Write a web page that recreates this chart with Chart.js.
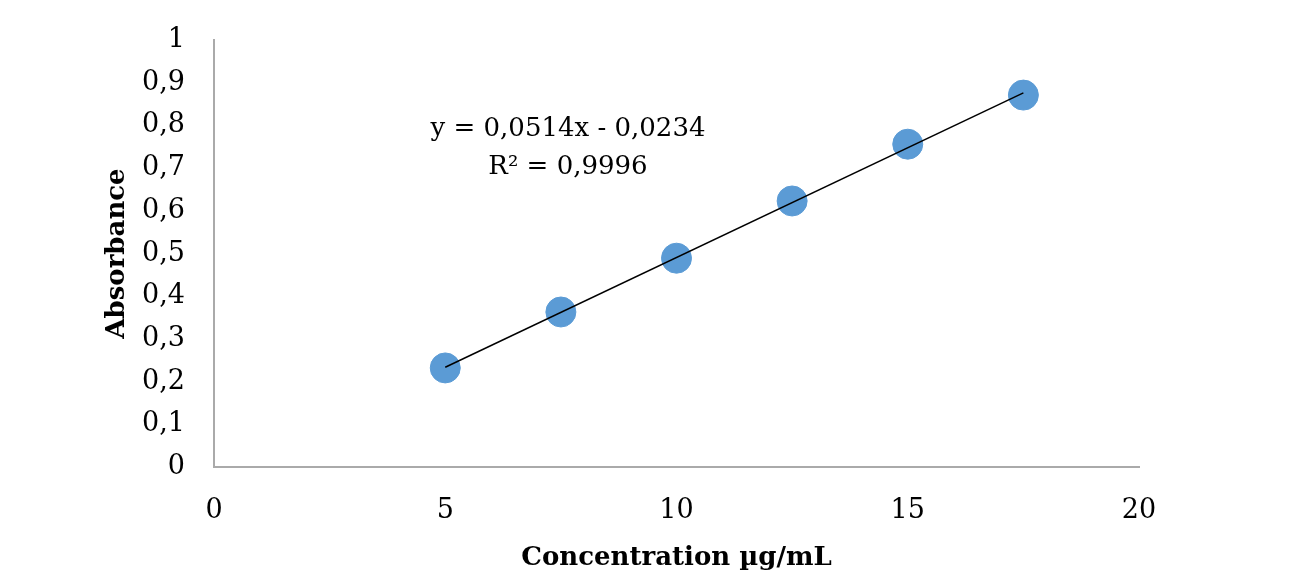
<!DOCTYPE html>
<html>
<head>
<meta charset="utf-8">
<script src="https://cdn.jsdelivr.net/npm/chart.js@4"></script>
<style>
  html, body { margin: 0; padding: 0; background: #fff; }
  #wrap { width: 1289px; height: 580px; }
</style>
</head>
<body>
<div id="wrap"><canvas id="calChart"></canvas></div>
<script>
// Calibration data
const concentrations = [5, 7.5, 10, 12.5, 15, 17.5];
const absorbances = [0.232, 0.363, 0.489, 0.623, 0.756, 0.871];

// Linear trendline as printed on the chart
const slope = 0.0514;
const intercept = -0.0234;
const equationText = 'y = 0,0514x - 0,0234';
const rSquaredText = 'R² = 0,9996';

const xTicks = [0, 5, 10, 15, 20];
const yTicks = [0, 0.1, 0.2, 0.3, 0.4, 0.5, 0.6, 0.7, 0.8, 0.9, 1];

const FONT = "'DejaVu Serif', 'Liberation Serif', serif";
const AXIS_GRAY = 'rgb(170, 170, 170)';

// comma as decimal separator
function fmt(v) {
    return String(Math.round(v * 10) / 10).replace('.', ',');
}

const trendData = [concentrations[0], concentrations[concentrations.length - 1]].map(x => ({
    x: x,
    y: slope * x + intercept
}));

// Equation label drawn on top of the plot
const equationLabel = {
    id: 'equationLabel',
    afterDraw(chart) {
        const ctx = chart.ctx;
        ctx.save();
        ctx.fillStyle = '#000';
        ctx.textAlign = 'center';
        ctx.textBaseline = 'middle';
        ctx.font = '26px ' + FONT;
        ctx.fillText(equationText, 568, 129);
        ctx.fillText(rSquaredText, 568, 167);
        ctx.restore();
    }
};

const ctx = document.getElementById('calChart');
new Chart(ctx, {
    type: 'scatter',
    data: {
        datasets: [
            {
                label: 'Absorbance',
                data: concentrations.map((x, i) => ({ x: x, y: absorbances[i] })),
                backgroundColor: 'rgb(91, 155, 213)',
                borderColor: 'rgb(91, 155, 213)',
                pointRadius: 15,
                pointHoverRadius: 15,
                order: 2
            },
            {
                label: 'Trend',
                type: 'line',
                data: trendData,
                borderColor: '#000',
                borderWidth: 1.5,
                pointRadius: 0,
                fill: false,
                order: 1
            }
        ]
    },
    options: {
        responsive: true,
        maintainAspectRatio: false,
        animation: false,
        layout: {
            padding: { top: 40, right: 150, bottom: 6, left: 102 }
        },
        plugins: {
            legend: { display: false },
            tooltip: { enabled: false }
        },
        scales: {
            x: {
                type: 'linear',
                min: 0,
                max: 20,
                afterBuildTicks: axis => { axis.ticks = xTicks.map(v => ({ value: v })); },
                afterFit: axis => {
                    axis.height = 107;
                    axis.paddingLeft = 0;
                    axis.paddingRight = 0;
                },
                grid: { display: false, drawTicks: false },
                border: { color: AXIS_GRAY, width: 2 },
                ticks: {
                    color: '#000',
                    padding: 28,
                    font: { family: FONT, size: 27 }
                },
                title: {
                    display: true,
                    text: 'Concentration µg/mL',
                    color: '#000',
                    font: { family: FONT, size: 26, weight: 'bold' },
                    padding: { top: 16, bottom: 0 }
                }
            },
            y: {
                type: 'linear',
                min: 0,
                max: 1,
                afterBuildTicks: axis => { axis.ticks = yTicks.map(v => ({ value: v })); },
                afterFit: axis => {
                    axis.width = 112;
                    axis.paddingTop = 0;
                    axis.paddingBottom = 0;
                },
                grid: { display: false, drawTicks: false },
                border: { color: AXIS_GRAY, width: 2 },
                ticks: {
                    color: '#000',
                    padding: 29,
                    font: { family: FONT, size: 27 },
                    callback: v => fmt(v)
                },
                title: {
                    display: true,
                    text: 'Absorbance',
                    color: '#000',
                    font: { family: FONT, size: 26, weight: 'bold' },
                    padding: { top: 0, bottom: 0 }
                }
            }
        }
    },
    plugins: [equationLabel]
});
</script>
</body>
</html>
